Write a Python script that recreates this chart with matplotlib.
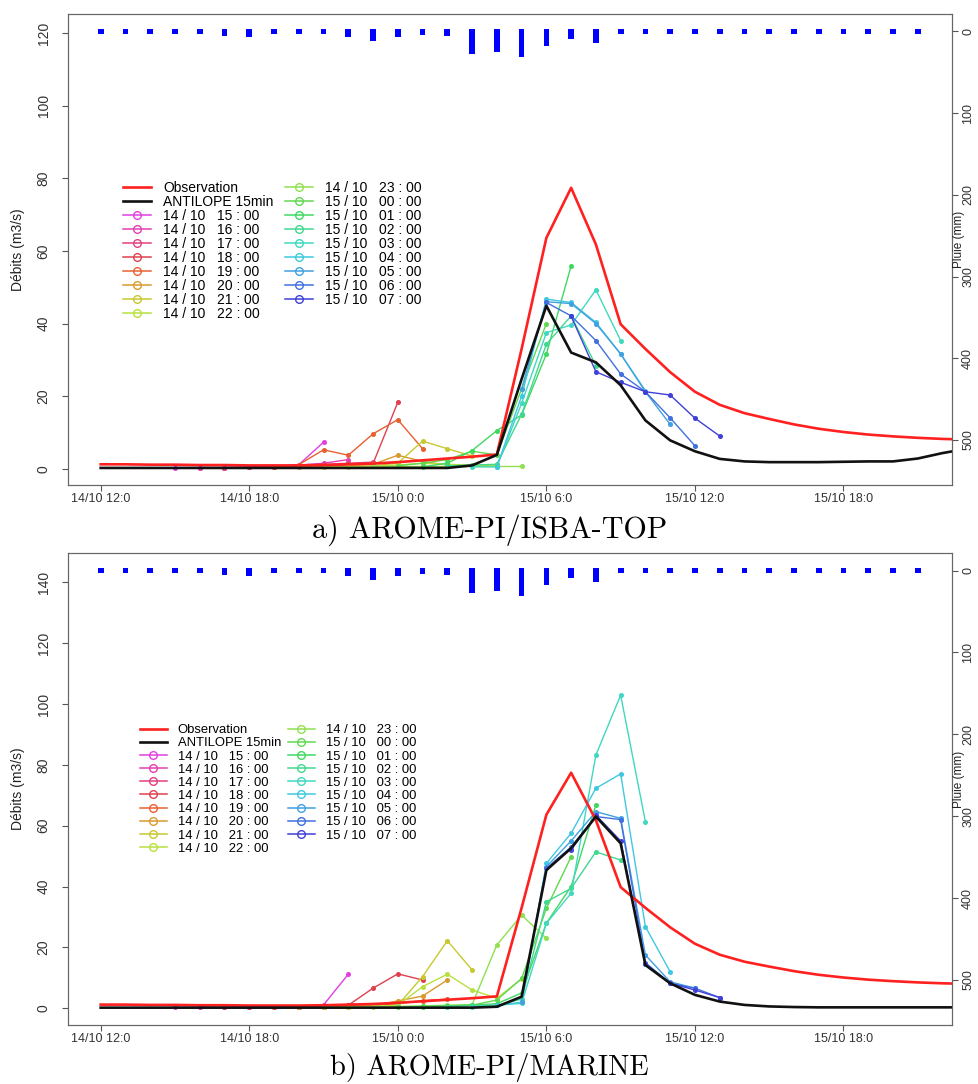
import numpy as np
import matplotlib
matplotlib.use('Agg')
import matplotlib.pyplot as plt
from matplotlib.lines import Line2D

plt.rcParams['font.family'] = ['Liberation Sans', 'DejaVu Sans']

# hours counted from 14/10 12:00
hours = np.arange(36)
rain_hours = np.arange(34)
rain = [0, 0, 0, 0, 0, 2, 3.5, 0, 0, 0, 3, 8, 3.5, 1, 2, 24.5, 21, 27.5, 14, 6,
        10, 0, 0, 0, 0, 0, 0, 0, 0, 0, 0, 0, 0, 0]

obs = [1.2, 1.2, 1.1, 1.1, 1.0, 1.0, 0.9, 0.9, 0.9, 1.0, 1.2, 1.4, 1.8, 2.3, 2.8, 3.3,
       3.9, 33, 63.6, 77.4, 61.8, 39.8, 33, 26.6, 21.2, 17.6, 15.3, 13.7, 12.2, 11.0,
       10.1, 9.4, 8.9, 8.5, 8.2, 8.0]
antilope_top = [0.2] * 15 + [0.9, 3.8, 24.7, 44.9, 32, 29.3, 23, 13.3, 7.8, 4.8, 2.7,
                             2.0, 1.8, 1.8, 1.8, 1.9, 2.0, 2.0, 2.8, 4.3, 5.5]
antilope_bot = [0.2] * 16 + [0.5, 3.8, 45.4, 52.6, 63, 54.2, 14.2, 8.2, 4.4, 2.2,
                             1.1, 0.6, 0.4, 0.3, 0.3, 0.3, 0.3, 0.3, 0.3, 0.3]

run_labels = ['14 / 10   15 : 00', '14 / 10   16 : 00', '14 / 10   17 : 00',
              '14 / 10   18 : 00', '14 / 10   19 : 00', '14 / 10   20 : 00',
              '14 / 10   21 : 00', '14 / 10   22 : 00', '14 / 10   23 : 00',
              '15 / 10   00 : 00', '15 / 10   01 : 00', '15 / 10   02 : 00',
              '15 / 10   03 : 00', '15 / 10   04 : 00', '15 / 10   05 : 00',
              '15 / 10   06 : 00', '15 / 10   07 : 00']
run_colors = ['#E040E0', '#E040B0', '#E04080', '#E04050', '#E86030', '#D89A30',
              '#C8C830', '#B8E040', '#90E050', '#60D850', '#40D860', '#40D890',
              '#40D8C0', '#40C8E0', '#40A0E0', '#4070E0', '#4040D8']
run_issue = [3, 4, 5, 6, 7, 8, 9, 10, 11, 12, 13, 14, 15, 16, 17, 18, 19]

top_runs = [
    [0.3, 0.3, 0.3, 0.4, 0.5, 1.1, 7.3],
    [0.3, 0.3, 0.4, 0.5, 1.0, 1.5, 2.5],
    [0.3, 0.4, 0.5, 0.8, 1.2, 1.5, 1.8],
    [0.4, 0.5, 0.7, 0.8, 1.0, 1.4, 18.3],
    [0.5, 1.1, 5.2, 3.7, 9.6, 13.5, 5.5],
    [0.5, 0.6, 0.8, 1.2, 3.7, 2.0, 1.0],
    [0.5, 0.6, 0.8, 1.5, 7.6, 5.5, 3.5],
    [0.5, 0.6, 1.0, 1.5, 1.2, 1.0, 0.8],
    [0.6, 0.6, 0.6, 0.6, 0.6, 0.6, 0.6],
    [0.8, 1.5, 2.5, 4.8, 3.8, 22, 40],
    [0.5, 1.5, 5.0, 10.5, 14.8, 31.6, 55.9],
    [0.8, 1.0, 1.2, 15, 34.3, 42.1, 28.4],
    [0.5, 0.5, 18, 37.5, 39.6, 49.3, 35.3],
    [0.5, 20, 46.7, 45.8, 40.3, 31.6, 21.5],
    [22, 46, 45.5, 40, 31.6, 21.2, 12.2],
    [45.8, 42.1, 35.3, 26.1, 21.2, 14, 6.3],
    [42, 26.7, 23.8, 21.2, 20.3, 13.9, 9.0],
]
bot_runs = [
    [0.3, 0.3, 0.3, 0.3, 0.3, 0.3, 1.1, 11.2],
    [0.3, 0.3, 0.3, 0.3, 0.4, 0.5, 0.8, 1.2],
    [0.3, 0.3, 0.3, 0.4, 0.5, 0.8, 1.2, 1.5],
    [0.3, 0.3, 0.4, 0.5, 1.0, 6.6, 11.3, 9.3],
    [0.3, 0.4, 0.5, 0.8, 1.0, 1.5, 2.5, 3.0],
    [0.3, 0.4, 0.5, 0.8, 2.4, 4.0, 9.3],
    [0.4, 0.5, 0.6, 1.0, 10.4, 22.2, 12.6],
    [0.5, 0.6, 1.0, 7.1, 11.2, 6.0, 3.3, 9.6],
    [0.5, 0.6, 0.8, 1.0, 1.2, 20.8, 30.6, 23.0],
    [0.5, 0.6, 0.8, 1.0, 2.7, 9.8, 32.8, 49.8],
    [0.5, 0.8, 1.0, 1.5, 5.0, 28, 40, 66.8],
    [0.5, 0.8, 1.0, 3.0, 35, 39.4, 51.4, 48.7],
    [0.5, 1.0, 1.6, 27.9, 37.8, 83.2, 102.9, 61.3],
    [1.0, 2.0, 47.6, 57.5, 72.3, 77.0, 26.8, 12.0],
    [2.0, 46.5, 55, 64.6, 62.4, 17.5, 8.7, 6.6],
    [46, 53, 63, 62, 15, 8.2, 6.6, 3.5],
    [52, 63.5, 55, 14.5, 8.2, 6.0, 3.5],
]

xtick_hours = [0, 6, 12, 18, 24, 30]
xtick_labels = ['14/10 12:0', '14/10 18:0', '15/10 0:0', '15/10 6:0', '15/10 12:0', '15/10 18:0']
rain_ticks = [0, 100, 200, 300, 400, 500]

W, H = 979, 1084
fig = plt.figure(figsize=(W / 100, H / 100), dpi=100)


def fx(px):
    return px / W


def fy(py):
    return 1 - py / H


def draw_panel(box, antilope, runs, ylim, yticks, caption, cap_y, cap_size,
               leg_xy, leg_font, leg_sp, leg_col):
    left, top, right, bottom = box
    ax = fig.add_axes([fx(left), fy(bottom), fx(right) - fx(left), fy(top) - fy(bottom)])
    for k, vals in enumerate(runs):
        x = np.arange(run_issue[k], run_issue[k] + len(vals))
        ax.plot(x, vals, color=run_colors[k], lw=1.0, marker='o', ms=2.6, zorder=2)
    ax.plot(hours, obs, color='#FF2020', lw=1.9, zorder=3)
    ax.plot(hours, antilope, color='#111111', lw=1.9, zorder=3)
    ax.set_xlim(-1.32, 34.37)
    ax.set_ylim(*ylim)
    ax.set_xticks(xtick_hours)
    ax.set_xticklabels(xtick_labels, fontsize=9, color='#333333')
    ax.set_yticks(yticks)
    ax.set_yticklabels([str(v) for v in yticks], rotation=90, va='center',
                       fontsize=10, color='#333333')
    ax.tick_params(axis='x', length=4.5, pad=1, color='#555555')
    ax.tick_params(axis='y', length=4.5, pad=8, color='#555555')
    for sp in ax.spines.values():
        sp.set_color('#666666')

    ax2 = ax.twinx()
    ax2.bar(rain_hours, np.array(rain) + 7, bottom=-3.5, width=0.23, color='#0000FF', zorder=4)
    ax2.set_ylim(555, -21.4)
    ax2.set_yticks(rain_ticks)
    ax2.set_yticklabels([str(v) for v in rain_ticks], rotation=90, va='center',
                        fontsize=9, color='#333333')
    ax2.tick_params(axis='y', length=4.5, pad=3, color='#555555')
    for sp in ax2.spines.values():
        sp.set_color('#666666')

    mid = (top + bottom) / 2
    fig.text(fx(18), fy(mid), 'Débits (m3/s)', rotation=90, ha='center', va='center',
             fontsize=10, color='#222222')
    fig.text(fx(959), fy(mid - 10), 'Pluie (mm)', rotation=90, ha='center', va='center',
             fontsize=8.5, color='#222222')
    fig.text(0.5, fy(cap_y), caption, ha='center', va='center', family='cmr10',
             fontsize=cap_size)

    handles = [Line2D([], [], color='#FF2020', lw=1.9),
               Line2D([], [], color='#111111', lw=1.9)]
    for c in run_colors:
        handles.append(Line2D([], [], color=c, lw=1.1, marker='o', ms=5.5, mfc='none'))
    ax.legend(handles, ['Observation', 'ANTILOPE 15min'] + run_labels, ncol=2,
              loc='upper left', bbox_to_anchor=(fx(leg_xy[0]), fy(leg_xy[1])),
              bbox_transform=fig.transFigure, frameon=False, fontsize=leg_font,
              borderpad=0, labelspacing=leg_sp, handlelength=2.05, handletextpad=0.85,
              columnspacing=leg_col, borderaxespad=0)


draw_panel((68, 14, 951.7, 485), antilope_top, top_runs, (-4.5, 125.3),
           [0, 20, 40, 60, 80, 100, 120], 'a) AROME-PI/ISBA-TOP', 530, 21.6,
           (123, 181), 10, 0.0, 0.8)
draw_panel((68, 553, 951.7, 1025), antilope_bot, bot_runs, (-5.5, 149.6),
           [0, 20, 40, 60, 80, 100, 120, 140], 'b) AROME-PI/MARINE', 1068, 20.5,
           (140, 724), 9.4, 0.08, 0.5)

fig.savefig('out.png', dpi=100)
